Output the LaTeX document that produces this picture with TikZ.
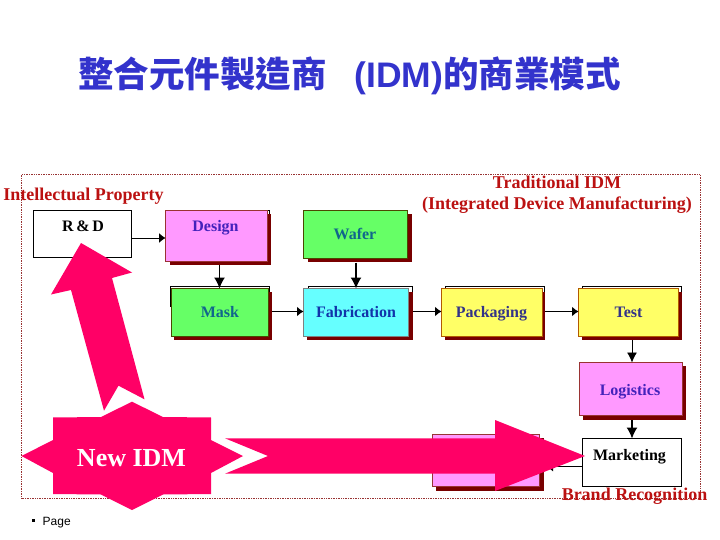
\documentclass[tikz,border=0pt]{standalone}
\usepackage{fontspec}
\setmainfont{Liberation Serif}
\setsansfont{Liberation Sans}
\newfontfamily\cjk{Noto Sans CJK TC}
\usetikzlibrary{arrows.meta}
\definecolor{hotpink}{HTML}{FF0066}
\definecolor{shadowred}{HTML}{780000}
\definecolor{framered}{HTML}{993333}
\definecolor{labelred}{HTML}{BB1111}
\definecolor{pinkbox}{HTML}{FF99FF}
\definecolor{greenbox}{HTML}{66FF66}
\definecolor{cyanbox}{HTML}{66FFFF}
\definecolor{yellowbox}{HTML}{FFFF66}
\definecolor{titleblue}{HTML}{3333CC}
\definecolor{purpletext}{HTML}{4422BB}
\definecolor{greentext}{HTML}{11668C}
\definecolor{bluetext}{HTML}{1133AA}
\definecolor{navytext}{HTML}{333388}
\tikzset{
  colorbox/.style={draw=#1, line width=0.8pt, inner sep=0pt, outer sep=0pt},
  boxtext/.style={font=\bfseries\fontsize{16}{18}\selectfont, inner sep=0pt, anchor=base},
  redtext/.style={font=\bfseries\fontsize{18}{21.3}\selectfont, text=labelred, inner sep=0pt, align=center},
  flow/.style={-{Latex[length=11pt,width=11pt]}, line width=1.4pt},
  sideflow/.style={-{Latex[length=6.5pt,width=10pt]}, line width=1.3pt},
  thinflow/.style={-{Latex[length=6.5pt,width=10pt]}, line width=0.9pt},
  thindown/.style={-{Latex[length=10pt,width=10pt]}, line width=0.9pt},
  whiteframe/.style={draw=black, fill=white, line width=0.7pt},
  shadowfill/.style={fill=shadowred},
  bigshape/.style={fill=hotpink},
}
\begin{document}
\begin{tikzpicture}[x=1pt,y=-1pt]
\useasboundingbox (0,0) rectangle (720,540);
% title
\node[font=\fontsize{35.5}{40}\selectfont\sffamily\bfseries, text=titleblue, inner sep=0pt, anchor=base] (title) at (349.5,88) {{\cjk 整合元件製造商}\hspace{28pt}(IDM){\cjk 的商業模式}};
% outer dotted frame
\node[draw=framered, densely dotted, line width=0.7pt, minimum width=678.5pt, minimum height=324pt, inner sep=0pt, outer sep=0pt] (outer) at (360.75,336.5) {};
% labels
\node[redtext, anchor=base] (ip) at (83.5,201) {Intellectual Property};
\node[redtext] (trad) at (557,194.7) {Traditional IDM\\(Integrated Device Manufacturing)};
\node[redtext, anchor=base] (brand) at (634.5,500.7) {Brand Recognition};
% frames behind
\fill[shadowfill] (169.5,214.5) rectangle (271,265);
\draw[whiteframe] (262,210) -- (269.5,210) -- (269.5,214);
\node[whiteframe, inner sep=0pt, minimum width=99pt, minimum height=20pt] (maskback) at (220,296.5) {};
\node[whiteframe, inner sep=0pt, minimum width=104pt, minimum height=20pt] (fabback) at (360,296.5) {};
\node[whiteframe, inner sep=0pt, minimum width=99pt, minimum height=20pt] (packback) at (494.5,296.5) {};
\node[whiteframe, inner sep=0pt, minimum width=99pt, minimum height=20pt] (testback) at (631.5,296.5) {};
% shadows
\fill[shadowfill] (307.5,214.5) rectangle (411.5,261.5);
\fill[shadowfill] (174,292) rectangle (272,339.5);
\fill[shadowfill] (307,292) rectangle (412.5,339.5);
\fill[shadowfill] (445,292) rectangle (544.5,339.5);
\fill[shadowfill] (582,292) rectangle (681.5,339.5);
\fill[shadowfill] (583,366) rectangle (685.5,420);
\fill[shadowfill] (436,438) rectangle (544,491);
% boxes
\node[whiteframe, minimum width=98pt, minimum height=47pt, inner sep=0pt, outer sep=0pt] (rd) at (82.5,233.5) {};
\node[colorbox=framered, fill=pinkbox, minimum width=101.5pt, minimum height=50.5pt] (design) at (216.25,235.75) {};
\node[colorbox=green!40!black!70!red, fill=greenbox, minimum width=104pt, minimum height=48pt] (wafer) at (355.5,234.5) {};
\node[colorbox=green!40!black!70!red, fill=greenbox, minimum width=97.5pt, minimum height=48pt] (mask) at (219.75,312.5) {};
\node[colorbox=gray, fill=cyanbox, minimum width=105pt, minimum height=48pt] (fab) at (356,312.5) {};
\node[colorbox=orange!70!black, fill=yellowbox, minimum width=100.5pt, minimum height=48pt] (pack) at (491.75,312.5) {};
\node[colorbox=orange!70!black, fill=yellowbox, minimum width=99.5pt, minimum height=48pt] (test) at (628.25,312.5) {};
\node[colorbox=framered, fill=pinkbox, minimum width=102.5pt, minimum height=52.5pt] (logi) at (630.75,388.75) {};
\node[whiteframe, minimum width=99pt, minimum height=48pt, inner sep=0pt, outer sep=0pt] (mkt) at (632,462.5) {};
\node[colorbox=framered, fill=pinkbox, minimum width=107pt, minimum height=52pt] (hidden) at (486,460.5) {};
% box texts
\node[boxtext, text=black] (rdt) at (83,231) {R\,\&\,D};
\node[boxtext, text=purpletext] (designt) at (215.5,231.7) {Design};
\node[boxtext, text=greentext] (wafert) at (355,240) {Wafer};
\node[boxtext, text=greentext] (maskt) at (220,317.7) {Mask};
\node[boxtext, text=bluetext] (fabt) at (356,317.7) {Fabrication};
\node[boxtext, text=navytext] (packt) at (491.5,317.7) {Packaging};
\node[boxtext, text=navytext] (testt) at (628.5,317.7) {Test};
\node[boxtext, text=purpletext] (logit) at (630,395) {Logistics};
\node[boxtext, text=black] (mktt) at (629.5,460.5) {Marketing};
% connectors
\draw[thinflow] (rd.east |- 0,238) coordinate (rdout) -- (design.west |- rdout);
\draw[flow] (design.south -| 219.5,0) ++(0,4) coordinate (dout) -- (mask.north -| dout);
\draw[flow] (wafer.south) ++(0.5,4) coordinate (wout) -- (fab.north -| wout);
\draw[sideflow] (mask.east) ++(3.5,-1) coordinate (mout) -- (fab.west |- mout);
\draw[sideflow] (fab.east) ++(4,-1) coordinate (fout) -- (pack.west |- fout);
\draw[sideflow] (pack.east) ++(3,-1) coordinate (pout) -- (test.west |- pout);
\draw[thindown] (test.south) ++(3.75,3.5) coordinate (tout) -- (logi.north -| tout);
\draw[flow] (logi.south) ++(1.25,5) coordinate (lout) -- (mkt.north -| lout);
\draw[sideflow] (mkt.west |- 0,466.7) coordinate (kout) -- (546.5,466.7) coordinate (kend);
% big pink shapes
\fill[bigshape] (81,243) -- (132,272.5) -- (112,278) -- (144.5,399.3) -- (118.5,385.7) -- (104,410.7) -- (71,290) -- (51,294.5) -- cycle;
\fill[bigshape] (225,438.3) -- (495,438.3) -- (495,420) -- (585,456) -- (495,491) -- (495,473.7) -- (225,473.7) -- (268,456) -- cycle;
\fill[bigshape] (132,401.7) -- (163,417) -- (211,417.5) -- (211,440) -- (243,456) -- (211,473) -- (211,494) -- (163,494.5) -- (132,510) -- (101,494.5) -- (53,494) -- (53,473) -- (21.5,456) -- (53,440) -- (53,417.5) -- (101,417) -- cycle;
\node[font=\bfseries\fontsize{26}{30}\selectfont, text=white, inner sep=0pt, anchor=base] (newidm) at (131.5,466) {New IDM};
% page
\node[font=\sffamily\fontsize{12}{14}\selectfont, inner sep=0pt, anchor=base west] (page) at (42.5,525) {Page};
\node[fill=black, minimum size=3pt, inner sep=0pt] (bullet) at (33.5,520.5) {};
\end{tikzpicture}
\end{document}
